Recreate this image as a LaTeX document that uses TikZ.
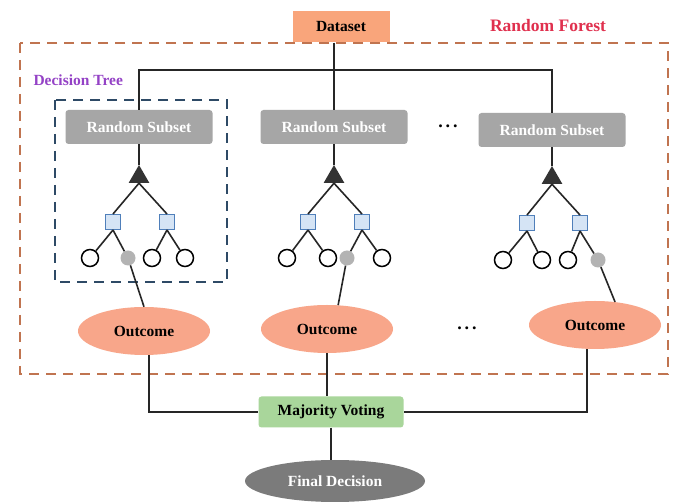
\documentclass[tikz,border=0pt]{standalone}
\usepackage{fontspec}
\setmainfont{Liberation Serif}
\usetikzlibrary{shapes.geometric}
\definecolor{dsorange}{HTML}{F9A57B}
\definecolor{outorange}{HTML}{F8A68A}
\definecolor{subgray}{HTML}{A6A6A6}
\definecolor{fingray}{HTML}{7B7B7B}
\definecolor{mvgreen}{HTML}{A9D69B}
\definecolor{outerdash}{HTML}{C07450}
\definecolor{bluedash}{HTML}{2E4A66}
\definecolor{sqblue}{HTML}{4F7FBA}
\definecolor{sqfill}{HTML}{D5E4F5}
\definecolor{leafgray}{HTML}{B3B3B3}
\definecolor{rfred}{HTML}{E0304E}
\definecolor{dtpurple}{HTML}{9442C6}
\begin{document}
\begin{tikzpicture}[x=1pt,y=-1pt,
  lbl/.style={font=\bfseries\fontsize{15.5}{17}\selectfont},
  subset/.style={rectangle, rounded corners=3pt, fill=subgray, minimum width=147pt, minimum height=34pt, text=white, lbl},
  outc/.style={ellipse, fill=outorange, minimum width=132pt, minimum height=48pt, inner sep=0pt, lbl},
  sq/.style={rectangle, draw=sqblue, fill=sqfill, minimum size=15pt, inner sep=0pt, line width=1pt},
  leaf/.style={circle, draw=black, fill=white, line width=1.5pt, minimum size=17pt, inner sep=0pt},
  gleaf/.style={circle, fill=leafgray, minimum size=15pt, inner sep=0pt},
  tri/.style={regular polygon, regular polygon sides=3, fill=black!80, minimum size=24pt, inner sep=0pt},
  conn/.style={line width=1.6pt, draw=black!85},
  dots/.style={font=\bfseries\fontsize{18}{20}\selectfont}
]
\useasboundingbox (0,0) rectangle (678,502);
\fill[white] (0,0) rectangle (678,502);

% frames
\draw[outerdash, line width=2.5pt, dash pattern=on 10pt off 7pt] (20,43) rectangle (668,374);
\draw[bluedash, line width=2.5pt, dash pattern=on 10pt off 7pt] (55,100) rectangle (227,282);

% titles
\node[text=rfred, font=\bfseries\fontsize{17.5}{19}\selectfont] (rf) at (548,26) {Random Forest};
\node[lbl, text=dtpurple, anchor=west] (dt) at (30,80) {Decision Tree};

% dataset
\node[rectangle, fill=dsorange, minimum width=97pt, minimum height=31pt, lbl] (d) at (341,27) {Dataset};

% subsets
\node[subset] (s1) at (139,127) {Random Subset};
\node[subset] (s2) at (334,127) {Random Subset};
\node[subset] (s3) at (552,130) {Random Subset};
\node[dots] (dots1) at (448,126) {.\hspace{3pt}.\hspace{3pt}.};

% tree 1
\node[tri] (t1) at (139,177) {};
\node[sq] (q1a) at (113,222) {};
\node[sq] (q1b) at (167,222) {};
\node[leaf] (l1a) at (90,258) {};
\node[gleaf] (l1b) at (128,258) {};
\node[leaf] (l1c) at (152,258) {};
\node[leaf] (l1d) at (185,258) {};

% tree 2
\node[tri] (t2) at (334,177) {};
\node[sq] (q2a) at (308,222) {};
\node[sq] (q2b) at (362,222) {};
\node[leaf] (l2a) at (287,258) {};
\node[leaf] (l2b) at (328,258) {};
\node[gleaf] (l2c) at (347,258) {};
\node[leaf] (l2d) at (382,258) {};

% tree 3
\node[tri] (t3) at (552,178) {};
\node[sq] (q3a) at (527,223) {};
\node[sq] (q3b) at (580,223) {};
\node[leaf] (l3a) at (503,260) {};
\node[leaf] (l3b) at (542,260) {};
\node[leaf] (l3c) at (568,260) {};
\node[gleaf] (l3d) at (598,260) {};

% outcomes
\node[outc] (o1) at (144,331) {Outcome};
\node[outc] (o2) at (327,329) {Outcome};
\node[outc] (o3) at (595,325) {Outcome};
\node[dots] (dots2) at (467,328) {.\hspace{3pt}.\hspace{3pt}.};

% majority voting and final decision
\node[rectangle, rounded corners=3pt, fill=mvgreen, minimum width=145pt, minimum height=31pt, lbl] (m) at (331,412) {Majority Voting};
\node[ellipse, fill=fingray, minimum width=180pt, minimum height=42pt, inner sep=0pt, text=white, lbl] (f) at (335,481) {Final Decision};

% connectors: dataset to subsets
\coordinate (hb) at (0,70);
\draw[conn] (d.south -| s2.north) -- (s2.north);
\draw[conn] (s1.north) -- (s1.north |- hb) -- (s3.north |- hb) -- (s3.north);

% trees
\foreach \i in {1,2,3}{
  \draw[conn] (s\i.south) -- (t\i.corner 1);
  \draw[conn] (t\i.south) -- (q\i a.north);
  \draw[conn] (t\i.south) -- (q\i b.north);
  \draw[conn] (q\i a.south) -- (l\i a);
  \draw[conn] (q\i a.south) -- (l\i b);
  \draw[conn] (q\i b.south) -- (l\i c);
  \draw[conn] (q\i b.south) -- (l\i d);
}
\draw[conn] (l1b) -- (o1.north);
\draw[conn] (l2c) -- (o2.65);
\draw[conn] (l3d) -- (o3.49);

% outcomes to voting
\draw[conn] ([xshift=5pt]o1.south) |- (m.west);
\draw[conn] (o2.south) -- (o2.south |- m.north);
\draw[conn] ([xshift=-8pt]o3.south) |- (m.east);
\draw[conn] (m.south) -- (m.south |- f.north);
\end{tikzpicture}
\end{document}
